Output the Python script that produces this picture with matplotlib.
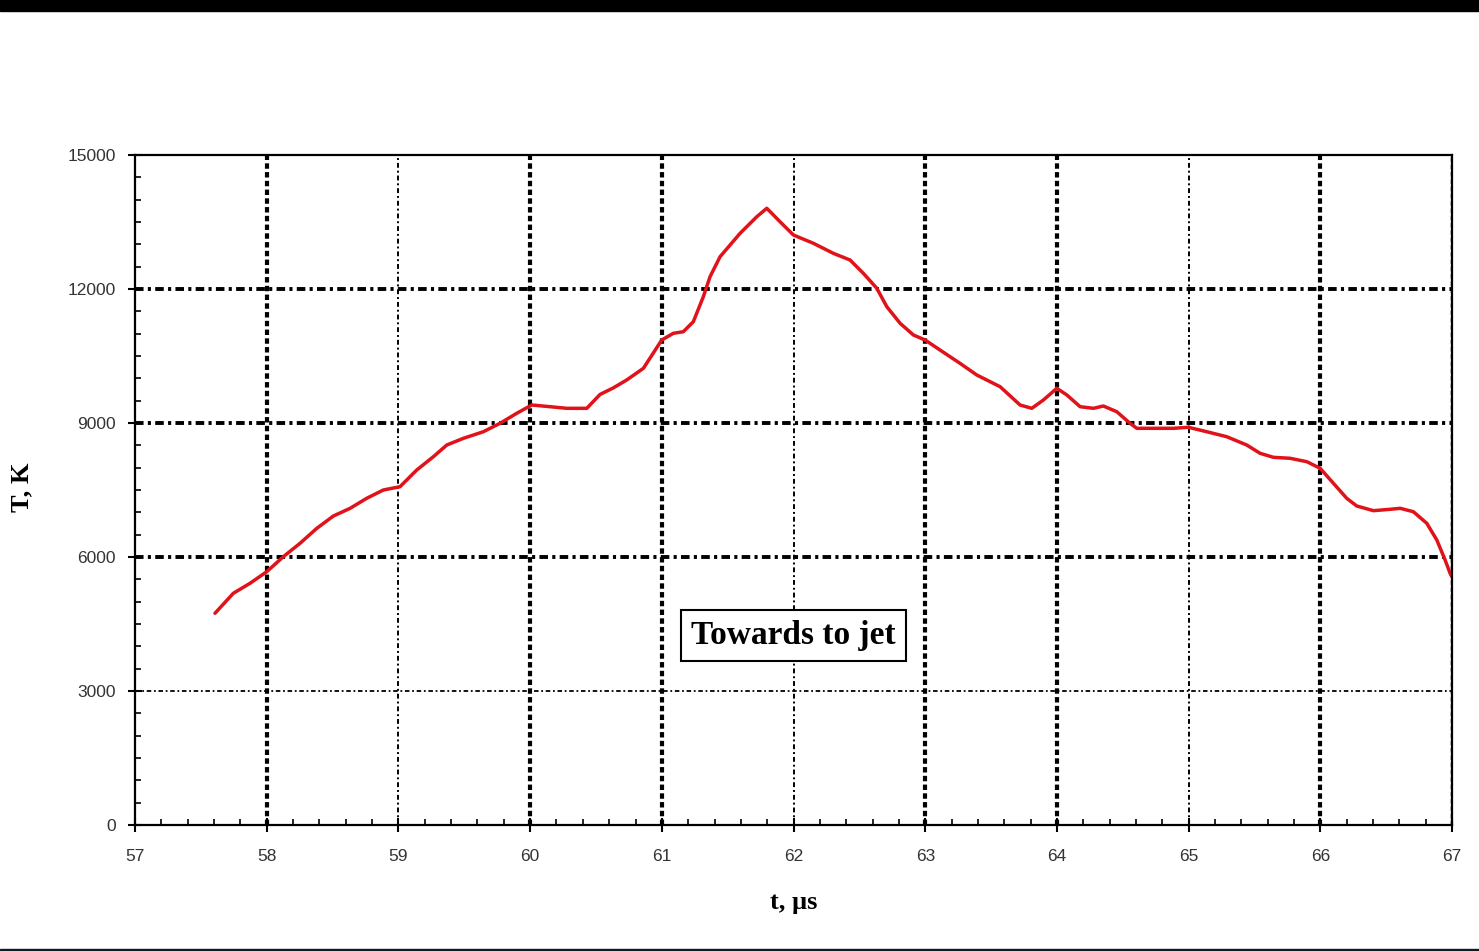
import numpy as np
import matplotlib
matplotlib.use("Agg")
import matplotlib.pyplot as plt
from matplotlib.ticker import MultipleLocator

# time (us) and temperature (K)
t_us = [57.607, 57.746, 57.873, 58.000, 58.126, 58.253, 58.380, 58.506, 58.633,
        58.759, 58.885, 59.012, 59.139, 59.265, 59.367, 59.493, 59.645, 59.771,
        59.898, 60.012, 60.151, 60.278, 60.430, 60.531, 60.630, 60.733, 60.860,
        60.999, 61.087, 61.163, 61.239, 61.315, 61.366, 61.442, 61.594, 61.721,
        61.797, 61.897, 61.999, 62.151, 62.302, 62.429, 62.530, 62.632, 62.708,
        62.809, 62.910, 62.999, 63.112, 63.264, 63.391, 63.568, 63.720, 63.809,
        63.897, 63.999, 64.075, 64.176, 64.277, 64.352, 64.454, 64.555, 64.606,
        64.758, 64.884, 64.998, 65.137, 65.289, 65.441, 65.542, 65.643, 65.770,
        65.897, 65.998, 66.099, 66.200, 66.276, 66.403, 66.530, 66.606, 66.706,
        66.808, 66.884, 66.947, 66.985, 67.000]
temp_K = [4740, 5187, 5411, 5671, 6007, 6307, 6642, 6918, 7090,
          7314, 7500, 7574, 7948, 8245, 8507, 8657, 8805, 8993,
          9217, 9403, 9365, 9329, 9329, 9640, 9784, 9963, 10225,
          10858, 11008, 11044, 11268, 11828, 12276, 12723, 13247, 13619,
          13807, 13507, 13209, 13023, 12799, 12649, 12351, 12016, 11604,
          11232, 10970, 10858, 10634, 10336, 10075, 9813, 9403, 9329,
          9515, 9777, 9627, 9365, 9329, 9381, 9253, 8993, 8881,
          8881, 8881, 8904, 8805, 8693, 8507, 8322, 8232, 8210,
          8134, 7986, 7650, 7314, 7142, 7037, 7068, 7090, 7014,
          6754, 6381, 5933, 5635, 5550]

x_ticks = list(range(57, 68))
y_ticks = [0, 3000, 6000, 9000, 12000, 15000]
annotation = "Towards to jet"

fig = plt.figure(figsize=(14.79, 9.51), dpi=100)
ax = fig.add_axes([0.0913, 0.1325, 0.8905, 0.7045])

# black bands along the top and bottom edges
fig.patches.append(plt.Rectangle((0, 1 - 11 / 951), 1, 11 / 951, transform=fig.transFigure,
                                 color="black", zorder=0))
fig.patches.append(plt.Rectangle((0, 0), 1, 2 / 951, transform=fig.transFigure,
                                 color="#111a22", zorder=0))

ax.set_xlim(57, 67)
ax.set_ylim(0, 15000)

# grid: heavy dotted lines, a few lighter ones
light_x = [59, 62, 65]
for xv in x_ticks[1:-1]:
    if xv in light_x:
        ax.axvline(xv, color="black", lw=1.4, ls=(0, (2.5, 1.5, 1, 1.5)), zorder=1)
    else:
        ax.axvline(xv, color="black", lw=3.0, ls=(0, (1.3, 0.8)), zorder=1)
for yv in y_ticks[1:-1]:
    if yv == 3000:
        ax.axhline(yv, color="black", lw=1.3, ls=(0, (2.5, 1.5, 1, 1.5)), zorder=1)
    else:
        ax.axhline(yv, color="black", lw=2.8, ls=(0, (2.2, 1.1, 0.8, 1.1)), zorder=1)
ax.axvline(67, color="black", lw=2.5, ls=(0, (1.3, 0.8)), zorder=1)

ax.plot(t_us, temp_K, color="#e0121a", lw=2.5, zorder=3, solid_capstyle="round")

ax.set_xticks(x_ticks)
ax.set_yticks(y_ticks)
ax.xaxis.set_minor_locator(MultipleLocator(0.2))
ax.yaxis.set_minor_locator(MultipleLocator(500))
ax.tick_params(which="major", direction="inout", length=10, width=1.5,
               labelsize=12.5, labelcolor="#333333", pad=9)
ax.tick_params(which="minor", direction="in", length=4, width=1.2)
ax.tick_params(axis="x", which="major", pad=12)
for lab in ax.get_xticklabels() + ax.get_yticklabels():
    lab.set_family("Liberation Sans")

for sp in ax.spines.values():
    sp.set_linewidth(1.6)
    sp.set_zorder(4)

ax.set_xlabel("t, \u00b5s", fontsize=19, fontweight="bold", family="Liberation Serif", labelpad=20)
ax.set_ylabel("T, K", fontsize=19, fontweight="bold", family="Liberation Serif")
ax.yaxis.set_label_coords(-0.0774, 0.504)

ax.text(62.0, 4250, annotation, fontsize=24, fontweight="bold", family="Liberation Serif",
        ha="center", va="center", zorder=5,
        bbox=dict(boxstyle="square,pad=0.3", facecolor="white", edgecolor="black", linewidth=1.5))

fig.savefig("out.png", dpi=100)
